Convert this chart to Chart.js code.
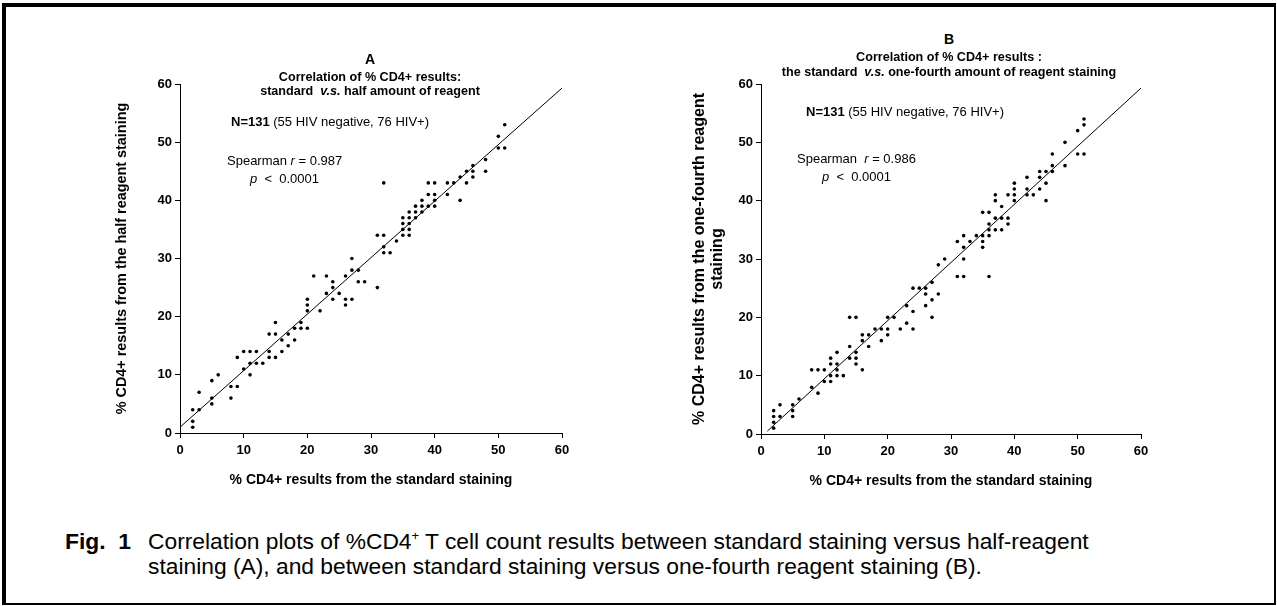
<!DOCTYPE html>
<html>
<head>
<meta charset="utf-8">
<script src="https://cdn.jsdelivr.net/npm/chart.js@4.4.0/dist/chart.umd.min.js"></script>
<style>
  html, body { margin: 0; padding: 0; background: #fff; }
  body { width: 1277px; height: 606px; position: relative; overflow: hidden;
         font-family: "Liberation Sans", Arial, sans-serif; color: #000; }
  #frame { position: absolute; left: 2px; top: 3px; width: 1268px; height: 596px;
           border-left: 4px solid #000; border-top: 4px solid #000;
           border-right: 2px solid #000; border-bottom: 2px solid #000; }
  canvas { position: absolute; }
  .t { position: absolute; white-space: nowrap; line-height: 1; }
  .c { transform: translate(-50%, -50%); }
  .l { transform: translate(0, -50%); }
  .b { font-weight: bold; }
  .cap { position: absolute; white-space: nowrap; font-size: 22.8px; line-height: 26px; }
</style>
</head>
<body>
<div id="frame"></div>

<canvas id="chartA" width="500" height="450" style="left:90px;top:60px;width:500px;height:450px"></canvas>
<canvas id="chartB" width="500" height="450" style="left:670px;top:60px;width:500px;height:450px"></canvas>

<!-- Panel A texts -->
<div class="t c b" style="left:370px;top:59px;font-size:14px">A</div>
<div class="t c b" style="left:370px;top:77px;font-size:12.6px">Correlation of % CD4+ results:</div>
<div class="t c b" style="left:370px;top:91px;font-size:12.6px">standard&nbsp; <i>v.s.</i> half amount of reagent</div>
<div class="t l" style="left:231px;top:121px;font-size:13px"><b>N=131</b> (55 HIV negative, 76 HIV+)</div>
<div class="t l" style="left:227px;top:160px;font-size:13px">Spearman <i>r</i> = 0.987</div>
<div class="t l" style="left:250px;top:178px;font-size:13px"><i>p</i>&nbsp; &lt;&nbsp; 0.0001</div>

<!-- Panel B texts -->
<div class="t c b" style="left:949px;top:39px;font-size:14px">B</div>
<div class="t c b" style="left:949px;top:57px;font-size:12.6px">Correlation of % CD4+ results :</div>
<div class="t c b" style="left:949px;top:72px;font-size:12.6px">the standard&nbsp; <i>v.s.</i> one-fourth amount of reagent staining</div>
<div class="t l" style="left:806px;top:111px;font-size:13px"><b>N=131</b> (55 HIV negative, 76 HIV+)</div>
<div class="t l" style="left:797px;top:158px;font-size:13px">Spearman&nbsp; <i>r</i> = 0.986</div>
<div class="t l" style="left:822px;top:176px;font-size:13px"><i>p</i>&nbsp; &lt;&nbsp; 0.0001</div>

<!-- Caption -->
<div class="cap b" style="left:65px;top:528px">Fig.&nbsp; 1</div>
<div class="cap" style="left:148px;top:528px">Correlation plots of %CD4<sup style="font-size:13px;line-height:0">+</sup> T cell count results between standard staining versus half-reagent</div>
<div class="cap" style="left:148px;top:553px">staining (A), and between standard staining versus one-fourth reagent staining (B).</div>

<script>
// ---------- DATA ----------
const xTicks = [0, 10, 20, 30, 40, 50, 60];

// Panel A: standard staining (x) vs half reagent staining (y)
const aStandard = [2,2,2,3,3,5,5,5,6,8,8,9,9,10,10,11,11,11,12,12,13,14,14,14,15,15,15,16,16,17,17,18,18,19,19,20,20,20,20,21,22,23,23,24,24,24,25,26,26,26,27,27,27,28,28,29,31,31,32,32,32,32,33,34,35,35,35,35,36,36,36,36,36,37,37,37,38,38,38,39,39,39,40,40,40,40,42,42,43,44,44,45,45,46,46,46,48,48,50,50,51,51];
const aHalf     = [1,2,4,7,4,9,6,5,10,8,6,13,8,11,14,14,12,10,14,12,12,17,14,13,19,17,13,16,14,17,15,18,16,19,18,23,22,21,18,27,21,27,24,26,25,23,24,27,23,22,30,28,23,28,26,26,34,25,34,43,32,31,31,33,37,36,35,34,38,37,36,35,34,39,38,37,40,39,38,43,41,39,43,41,40,39,43,41,43,44,40,45,43,46,45,44,47,45,51,49,53,49];
const aFitX = [0, 60];
const aFitY = [1.0, 59.3];

// Panel B: standard staining (x) vs one-fourth reagent staining (y)
const bStandard = [2,2,2,2,3,3,5,5,5,6,8,8,9,9,10,10,11,11,11,11,12,12,12,12,13,14,14,14,15,15,15,15,16,16,16,17,17,18,19,19,20,20,20,21,22,23,23,24,24,24,25,26,26,26,27,27,27,28,28,29,31,31,32,32,32,32,33,34,35,35,35,35,36,36,36,36,36,37,37,37,37,38,38,38,39,39,39,40,40,40,40,42,42,42,43,44,44,44,45,45,45,46,46,46,48,48,50,50,51,51,51];
const bQuarter  = [1,2,3,4,5,3,5,4,3,6,11,8,11,7,11,9,13,12,10,9,14,12,11,10,10,20,15,13,20,14,13,12,17,16,11,17,15,18,18,16,20,18,17,20,18,22,19,25,21,18,25,25,24,22,26,23,20,29,24,30,33,27,34,32,30,27,33,34,38,34,33,32,38,36,35,34,27,41,40,37,35,39,37,35,41,37,36,43,42,41,40,44,42,41,41,45,44,42,45,43,40,48,46,45,50,46,52,48,54,53,48];
const bFitX = [1, 60];
const bFitY = [0.5, 59.3];

// ---------- CHARTS ----------
const FONT = "'Liberation Sans', Arial, sans-serif";

function pts(xs, ys) { return xs.map((x, i) => ({ x: x, y: ys[i] })); }

function makeChart(id, xs, ys, fx, fy, yTitle, cfg) {
  new Chart(document.getElementById(id), {
    type: 'scatter',
    data: {
      datasets: [
        { data: pts(xs, ys), pointRadius: 1.8, pointHoverRadius: 1.8, pointStyle: 'circle',
          backgroundColor: '#000', borderWidth: 0 },
        { type: 'line', data: pts(fx, fy), borderColor: '#000', borderWidth: 1,
          pointRadius: 0, fill: false, tension: 0 }
      ]
    },
    options: {
      responsive: false,
      animation: false,
      devicePixelRatio: 1,
      events: [],
      layout: { padding: { left: 0, right: cfg.padRight, top: 24, bottom: 0 } },
      plugins: { legend: { display: false }, tooltip: { enabled: false } },
      scales: {
        x: {
          type: 'linear', min: 0, max: 60,
          afterBuildTicks: s => { s.ticks = xTicks.map(v => ({ value: v })); },
          afterFit: s => { s.height = cfg.xHeight; },
          grid: { drawOnChartArea: false, drawTicks: true, tickLength: 5, color: '#000', lineWidth: 1 },
          border: { display: true, color: '#000', width: 1 },
          ticks: { color: '#000', padding: 5, font: { family: FONT, size: 13, weight: 'bold' } },
          title: { display: true, text: '% CD4+ results from the standard staining', color: '#000',
                   font: { family: FONT, size: 14, weight: 'bold', lineHeight: 1.2 },
                   padding: { top: 0, bottom: cfg.xTitlePad } }
        },
        y: {
          type: 'linear', min: 0, max: 60,
          afterBuildTicks: s => { s.ticks = xTicks.map(v => ({ value: v })); },
          afterFit: s => { s.width = cfg.yWidth; },
          grid: { drawOnChartArea: false, drawTicks: true, tickLength: 5, color: '#000', lineWidth: 1 },
          border: { display: true, color: '#000', width: 1 },
          ticks: { color: '#000', padding: 3, font: { family: FONT, size: 13, weight: 'bold' } },
          title: { display: true, text: yTitle, color: '#000',
                   font: { family: FONT, size: cfg.yTitleSize, weight: 'bold', lineHeight: cfg.yLineHeight },
                   padding: { top: cfg.yTitlePad, bottom: 0 } }
        }
      }
    }
  });
}

makeChart('chartA', aStandard, aHalf, aFitX, aFitY,
  '% CD4+ results from the half reagent staining',
  { padRight: 28, xHeight: 77, yWidth: 90, yTitleSize: 14.4, yLineHeight: 1.2, yTitlePad: 23, xTitlePad: 21.6 });

makeChart('chartB', bStandard, bQuarter, bFitX, bFitY,
  ['% CD4+ results from the one-fourth reagent', 'staining'],
  { padRight: 29, xHeight: 76, yWidth: 91, yTitleSize: 16, yLineHeight: 1.125, yTitlePad: 21, xTitlePad: 20.6 });
</script>
</body>
</html>
